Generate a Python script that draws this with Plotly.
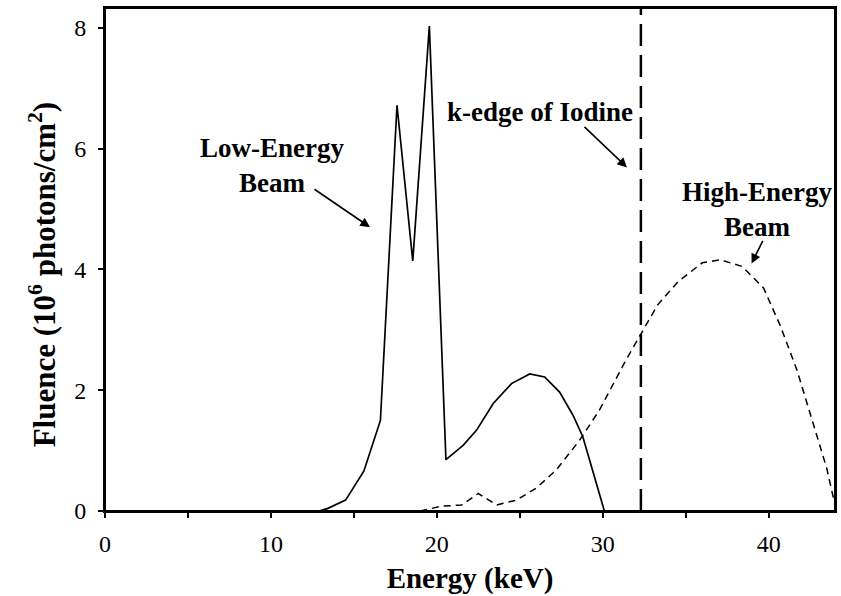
import plotly.graph_objects as go

# Low-energy beam (solid)
low_energy_kev = [0, 12.9, 13.4, 14.5, 15.6, 16.6, 17.6, 18.55, 19.55, 20.55, 21.6, 22.4, 23.4,
                  24.5, 25.6, 26.5, 27.4, 28.2, 28.8, 30.1]
low_fluence = [0, 0, 0.04, 0.18, 0.66, 1.5, 6.72, 4.14, 8.03, 0.85, 1.09, 1.34, 1.78,
               2.11, 2.27, 2.22, 1.97, 1.59, 1.23, 0]

# High-energy beam (dashed)
high_energy_kev = [19.0, 20.3, 21.5, 22.5, 23.6, 24.8, 26.0, 27.2, 28.6, 29.8, 31.4, 32.3,
                   33.3, 34.55, 36.0, 37.1, 38.4, 39.7, 40.7, 41.7, 42.7, 43.5, 43.9]
high_fluence = [0, 0.08, 0.1, 0.29, 0.1, 0.18, 0.38, 0.68, 1.17, 1.67, 2.5, 2.93,
                3.41, 3.8, 4.11, 4.16, 4.05, 3.69, 3.07, 2.34, 1.44, 0.71, 0.22]

k_edge_kev = 32.3

x_ticks = [0, 10, 20, 30, 40]
y_ticks = [0, 2, 4, 6, 8]

FONT = "Liberation Serif, Times New Roman, serif"

fig = go.Figure()
fig.add_trace(go.Scatter(x=low_energy_kev, y=low_fluence, mode="lines",
                         line=dict(color="black", width=1.7), showlegend=False))
fig.add_trace(go.Scatter(x=high_energy_kev, y=high_fluence, mode="lines",
                         line=dict(color="black", width=1.5, dash="7px,5px"), showlegend=False))

fig.add_shape(type="line", x0=k_edge_kev, x1=k_edge_kev, y0=0, y1=1, yref="paper",
              line=dict(color="black", width=2.5, dash="22px,9px"))
# plot frame
fig.add_shape(type="rect", xref="paper", yref="paper", x0=0, x1=1, y0=0, y1=1,
              line=dict(color="black", width=2), layer="above")

ann_font = dict(family=FONT, size=27, color="black")
fig.add_annotation(x=10.07, y=5.72, text="<b>Low-Energy<br>Beam</b>", showarrow=False, font=ann_font)
fig.add_annotation(x=26.22, y=6.6, text="<b>k-edge of Iodine</b>", showarrow=False, font=ann_font)
fig.add_annotation(x=39.3, y=5.0, text="<b>High-Energy<br>Beam</b>", showarrow=False, font=ann_font)

arrow = dict(showarrow=True, arrowhead=2, arrowsize=1.2, arrowwidth=1.6, arrowcolor="black", text="")
fig.add_annotation(x=15.97, y=4.70, ax=-57, ay=-39, **arrow)
fig.add_annotation(x=31.46, y=5.69, ax=-44, ay=-42, **arrow)
fig.add_annotation(x=38.97, y=4.10, ax=12, ay=-24, **arrow)

# y-axis title as rotated annotation for exact placement
fig.add_annotation(xref="paper", yref="paper", x=-0.086, y=0.469, textangle=-90,
                   xanchor="center", yanchor="middle",
                   text="<b>Fluence (10<sup>6</sup> photons/cm<sup>2</sup>)</b>",
                   showarrow=False, font=dict(family=FONT, size=31, color="black"))

fig.update_layout(
    width=841, height=596,
    margin=dict(l=105, r=6, t=8, b=85),
    paper_bgcolor="white", plot_bgcolor="white",
    font=dict(family=FONT, color="black"),
    xaxis=dict(range=[0, 44], tickvals=x_ticks, ticks="outside", ticklen=5, tickwidth=1.5,
               tickcolor="black", showline=True, linecolor="black", linewidth=2, mirror=True,
               showgrid=False, zeroline=False, tickfont=dict(size=24, family=FONT),
               automargin=False, ticklabelstandoff=5,
               minor=dict(dtick=5, ticks="outside", ticklen=5, tickcolor="black", tickwidth=1.5),
               title=dict(text="<b>Energy (keV)</b>", font=dict(size=29, family=FONT), standoff=12)),
    yaxis=dict(range=[0, 8.33], tickvals=y_ticks, ticks="outside", ticklen=5, tickwidth=1.5,
               tickcolor="black", showline=True, linecolor="black", linewidth=2, mirror=True,
               showgrid=False, zeroline=False, tickfont=dict(size=24, family=FONT),
               automargin=False, ticklabelstandoff=7),
)

fig.write_html("out.html", config={"displayModeBar": False},
               post_script="document.body.style.margin='0';")
